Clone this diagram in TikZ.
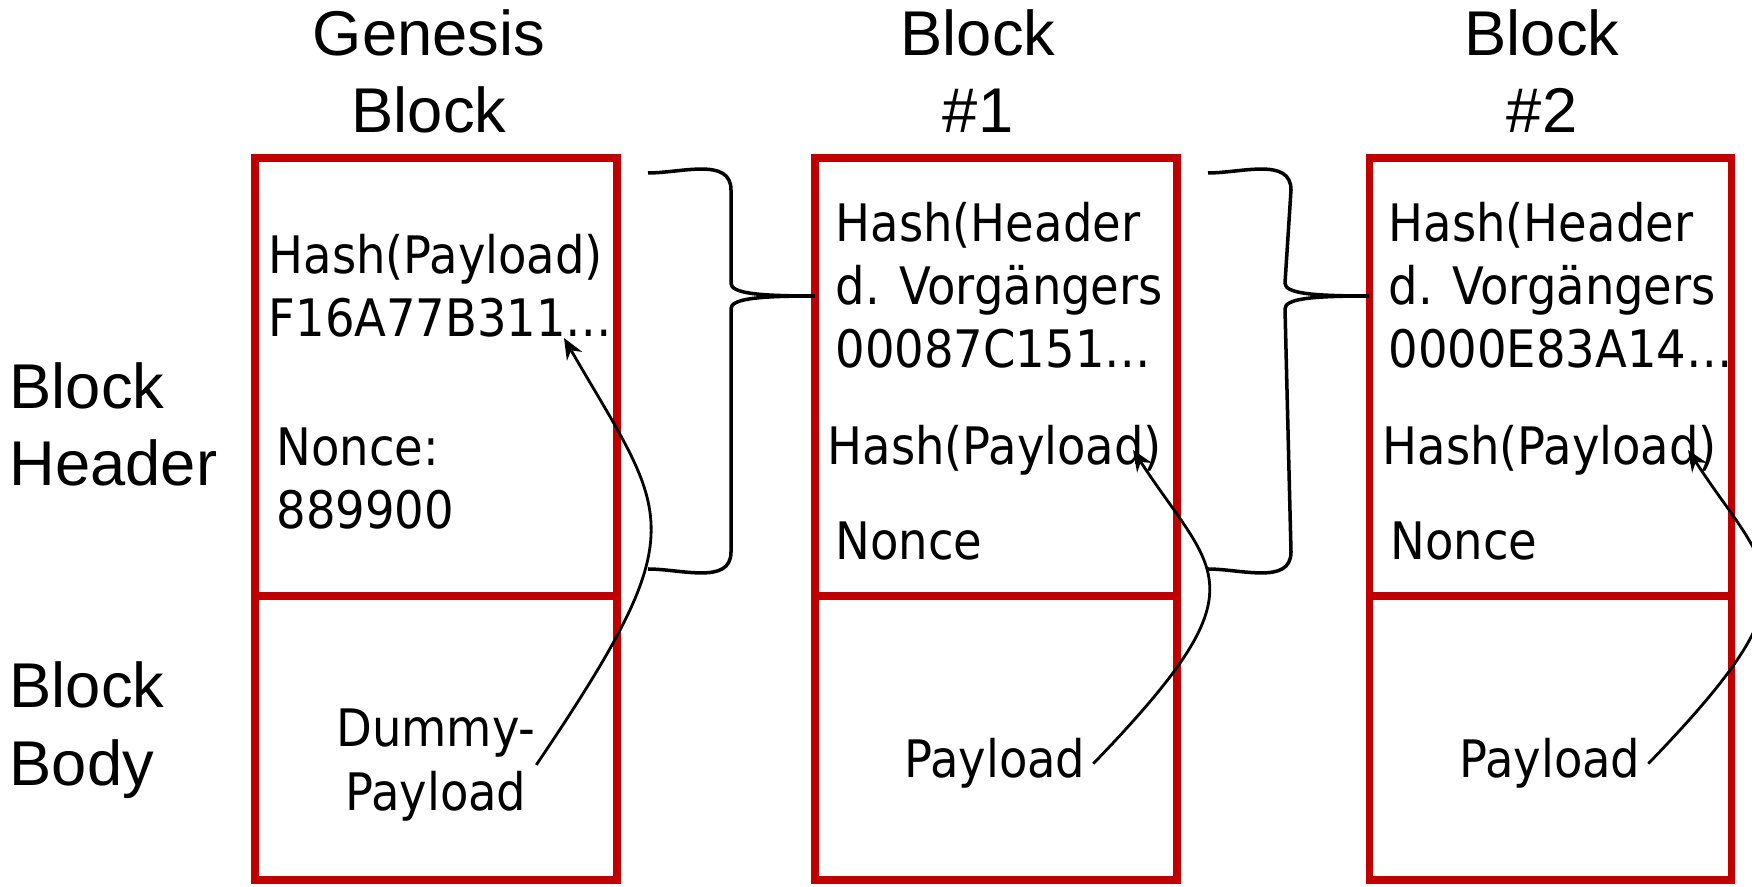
\documentclass[tikz,border=0pt]{standalone}
\usepackage{fontspec}
\setmainfont{Liberation Sans}
\newfontfamily\boxfont{DejaVu Sans Condensed}
\usepackage{xcolor}
\usetikzlibrary{arrows.meta,calc}
\definecolor{blockred}{HTML}{C00000}

\begin{document}
\begin{tikzpicture}[>={Stealth[length=6pt,width=5pt]},
    part/.style={draw=blockred, line width=2pt, inner sep=0pt, outer sep=0pt, minimum width=3.62cm, anchor=north west},
    headline/.style={font=\fontsize{18}{22}\selectfont, align=center, anchor=base},
    sidetext/.style={font=\fontsize{18}{22}\selectfont, inner sep=0pt, align=left, anchor=base west},
    boxtext/.style={font=\boxfont\fontsize{14.7}{18}\selectfont, inner sep=0pt, align=left, anchor=base west},
    brace/.style={line width=1pt},
    link/.style={line width=0.8pt, ->}]
    \useasboundingbox (0,0) rectangle (17.52,8.86);
    \clip (0,0) rectangle (17.52,8.86);

    % header and body of the three blocks
    \foreach \i/\x in {1/2.55, 2/8.15, 3/13.69} {
        \node [part, minimum height=4.38cm] (hdr\i) at (\x,7.28) {};
        \node [part, minimum height=2.84cm] (bdy\i) at (hdr\i.south west) {};
    }

    % (multi-line nodes: base = baseline of the last line)
    \node [headline] (tgen) at (4.29,7.53) {Genesis\\Block};
    \node [headline] (tone) at (9.78,7.53) {Block\\\#1};
    \node [headline] (ttwo) at (15.42,7.53) {Block\\\#2};
    \node [sidetext] (lhdr) at (0.09,4.00) {Block\\Header};
    \node [sidetext] (lbdy) at (0.09,1.01) {Block\\Body};

    % genesis block
    \node [boxtext] (hp1) at (2.68,5.49) {Hash(Payload)\\F16A77B311…};
    \node [boxtext] (nc1) at (2.76,3.57) {Nonce:\\889900};
    \node [boxtext, align=center, anchor=base] (pl1) at (4.36,0.76) {Dummy-\\Payload};
    % block #1
    \node [boxtext] (hh2) at (8.35,5.18) {Hash(Header\\d. Vorgängers\\00087C151…};
    \node [boxtext] (hp2) at (8.27,4.21) {Hash(Payload)};
    \node [boxtext] (nc2) at (8.35,3.26) {Nonce};
    \node [boxtext, anchor=base] (pl2) at (9.95,1.08) {Payload};
    % block #2
    \node [boxtext] (hh3) at (13.88,5.18) {Hash(Header\\d. Vorgängers\\0000E83A14…};
    \node [boxtext] (hp3) at (13.82,4.21) {Hash(Payload)};
    \node [boxtext] (nc3) at (13.90,3.26) {Nonce};
    \node [boxtext, anchor=base] (pl3) at (15.50,1.08) {Payload};

    % braces: header of one block goes into the next
    \foreach \a/\b in {1/2, 2/3} {
        \coordinate (bs\a) at ($(hdr\a.north east)+(0.31,-0.15)$);
        \coordinate (bm\a) at ($(hdr\b.north west)+(0,-1.38)$);
        \coordinate (be\a) at ($(hdr\a.south east)+(0.31,0.27)$);
        \draw [brace] (bs\a) to[out=0, in=90] ($(bs\a)+(0.83,-0.17)$)
            -- ($(bm\a)+(-0.84,0.13)$) .. controls +(0,-0.1) and +(-0.6,0) .. (bm\a)
            .. controls +(-0.6,0) and +(0,0.1) .. ($(bm\a)+(-0.84,-0.13)$)
            -- ($(be\a)+(0.83,0.17)$) to[out=-90, in=0] (be\a);
    }

    % payload hashes
    \coordinate (tip1) at (5.64,5.48);
    \coordinate (tip2) at (11.33,4.36);
    \coordinate (tip3) at (16.88,4.36);
    \draw [link] (pl1.east) .. controls +(56:2.9) and +(-60:2.1) .. (tip1);
    \foreach \i in {2,3}
        \draw [link] ([xshift=2pt]pl\i.east) .. controls +(46:2.5) and +(-57:1.5) .. (tip\i);
\end{tikzpicture}
\end{document}
